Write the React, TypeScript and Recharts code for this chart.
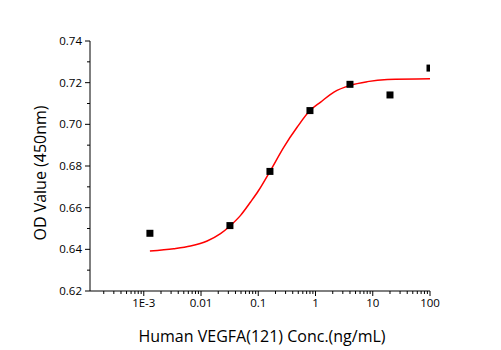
import { ComposedChart, Line, Scatter, XAxis, YAxis } from "recharts";

// measured points (conc ng/mL, OD 450nm)
const conc = [0.00128, 0.032, 0.16, 0.8, 4, 20, 100];
const od = [0.6477, 0.6514, 0.6774, 0.7066, 0.7192, 0.7141, 0.727];

// fitted curve
const fitConc = [0.00128, 0.00334, 0.00655, 0.0128, 0.0219, 0.032, 0.0491, 0.0733, 0.1, 0.16, 0.28, 0.48, 0.8, 1.23, 2.1, 4, 8.05, 18, 100];
const fitOd = [0.6392, 0.6403, 0.6416, 0.644, 0.6475, 0.6512, 0.6563, 0.6627, 0.668, 0.6774, 0.6891, 0.6987, 0.7066, 0.7107, 0.7155, 0.7187, 0.7205, 0.7215, 0.7219];

const xMajor = [0.001, 0.01, 0.1, 1, 10, 100];
const xLabels = ["1E-3", "0.01", "0.1", "1", "10", "100"];
const yMajor = [0.62, 0.64, 0.66, 0.68, 0.7, 0.72, 0.74];
const yMinor = [0.63, 0.65, 0.67, 0.69, 0.71, 0.73];

const points = conc.map((x, i) => ({ x, y: od[i] }));
const curve = fitConc.map((x, i) => ({ x, y: fitOd[i] }));

// minor ticks 2..9 of every decade within domain
const xMinor: number[] = [];
for (let e = -4; e <= 1; e++) {
  for (let m = 2; m <= 9; m++) {
    const v = m * Math.pow(10, e);
    if (v > 1.15e-4 && v < 100) xMinor.push(Number(v.toPrecision(3)));
  }
}
const xTicks = [...xMajor, ...xMinor].sort((a, b) => a - b);
const yTicks = [...yMajor, ...yMinor].sort((a, b) => a - b);

const FONT = "'Open Sans', 'Noto Sans', sans-serif";

function XTick(props: any) {
  const { x, y, payload } = props;
  const idx = xMajor.findIndex((v) => Math.abs(v - payload.value) / v < 1e-6);
  const major = idx >= 0;
  return (
    <g>
      <line x1={x} x2={x} y1={y} y2={y + (major ? 5 : 3)} stroke="#000" strokeWidth={1} />
      {major && (
        <text x={x} y={y + 16} textAnchor="middle" fontSize={11.5} fontFamily={FONT} fill="#000">
          {xLabels[idx]}
        </text>
      )}
    </g>
  );
}

function YTick(props: any) {
  const { x, y, payload } = props;
  const major = yMajor.some((v) => Math.abs(v - payload.value) < 1e-6);
  return (
    <g>
      <line x1={x} x2={x - (major ? 5 : 3)} y1={y} y2={y} stroke="#000" strokeWidth={1} />
      {major && (
        <text x={x - 8} y={y + 4} textAnchor="end" fontSize={11.5} fontFamily={FONT} fill="#000">
          {payload.value.toFixed(2)}
        </text>
      )}
    </g>
  );
}

function Square(props: any) {
  const { cx, cy } = props;
  return <rect x={cx - 3.5} y={cy - 3.5} width={7} height={7} fill="#000" />;
}

export default function App() {
  return (
    <div style={{ position: "absolute", left: 0, top: 0, background: "#fff" }}>
      <ComposedChart width={501} height={350} margin={{ top: 41, right: 71, left: 0, bottom: 0 }}>
        <XAxis
          type="number"
          dataKey="x"
          scale="log"
          domain={[1.15e-4, 100]}
          allowDataOverflow
          ticks={xTicks}
          interval={0}
          tickSize={0}
          tickMargin={0}
          tick={<XTick />}
          height={59}
          axisLine={{ stroke: "#000", strokeWidth: 1 }}
          label={{
            content: () => (
              <text x={262} y={342} textAnchor="middle" fontSize={16} fontFamily={FONT} fill="#000">
                Human VEGFA(121) Conc.(ng/mL)
              </text>
            ),
          }}
        />
        <YAxis
          type="number"
          dataKey="y"
          domain={[0.62, 0.74]}
          allowDataOverflow
          ticks={yTicks}
          interval={0}
          tickSize={0}
          tickMargin={0}
          tick={<YTick />}
          width={90}
          axisLine={{ stroke: "#000", strokeWidth: 1 }}
          label={{
            content: () => (
              <text
                x={46}
                y={173}
                transform="rotate(-90 46 173)"
                textAnchor="middle"
                fontSize={16}
                fontFamily={FONT}
                fill="#000"
              >
                OD Value (450nm)
              </text>
            ),
          }}
        />
        <Line
          data={curve}
          dataKey="y"
          type="monotone"
          stroke="#ff0000"
          strokeWidth={1.5}
          dot={false}
          isAnimationActive={false}
        />
        <Scatter data={points} dataKey="y" fill="#000" shape={<Square />} isAnimationActive={false} />
      </ComposedChart>
    </div>
  );
}
